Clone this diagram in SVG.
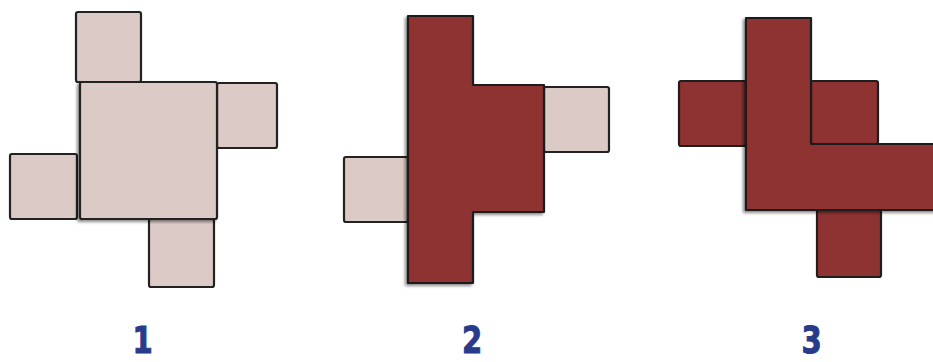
<svg xmlns="http://www.w3.org/2000/svg" width="933" height="362" viewBox="0 0 933 362">
<style>
.p{fill:#dbcac6;stroke:#222;stroke-width:2.2;stroke-linejoin:round}
.r{fill:#8e3232;stroke:#1e1e1e;stroke-width:2.2;stroke-linejoin:round}
.n{font-family:"DejaVu Sans Condensed","DejaVu Sans",sans-serif;font-weight:bold;font-size:38px;fill:#283a8a;stroke:#283a8a;stroke-width:1;text-anchor:middle}
</style>
<defs>
<filter id="sh" x="-10%" y="-10%" width="120%" height="120%">
<feDropShadow dx="-2" dy="2" stdDeviation="1.5" flood-color="#000" flood-opacity="0.45"/>
</filter>
</defs>
<g id="figure1">
<rect class="p" x="76" y="12" width="65" height="70" rx="2"/>
<rect class="p" x="10" y="154" width="67" height="65" rx="2"/>
<rect class="p" x="149" y="219" width="65" height="68" rx="2"/>
<rect class="p" x="217" y="83" width="60" height="65" rx="2"/>
<rect class="p" x="80" y="82" width="137" height="137" rx="2" filter="url(#sh)"/>
</g>
<g id="figure2">
<rect class="p" x="544" y="87" width="65" height="65" rx="2"/>
<rect class="p" x="344" y="157" width="64" height="65" rx="2"/>
<polygon class="r" points="408,16 473,16 473,85 544,85 544,212 473,212 473,283 408,283" filter="url(#sh)"/>
</g>
<g id="figure3">
<rect class="r" x="679" y="81" width="67" height="65" rx="2"/>
<rect class="r" x="811" y="81" width="67" height="63" rx="2"/>
<rect class="r" x="817" y="210" width="64" height="67" rx="2"/>
<polygon class="r" points="746,18 811,18 811,144 940,144 940,210 746,210" filter="url(#sh)"/>
</g>
<g id="labels">
<text class="n" x="142.5" y="353" transform="translate(142.5 0) scale(0.85 1) translate(-142.5 0)">1</text>
<text class="n" x="472" y="353" transform="translate(472 0) scale(0.85 1) translate(-472 0)">2</text>
<text class="n" x="811.5" y="353" transform="translate(811.5 0) scale(0.85 1) translate(-811.5 0)">3</text>
</g>
</svg>
